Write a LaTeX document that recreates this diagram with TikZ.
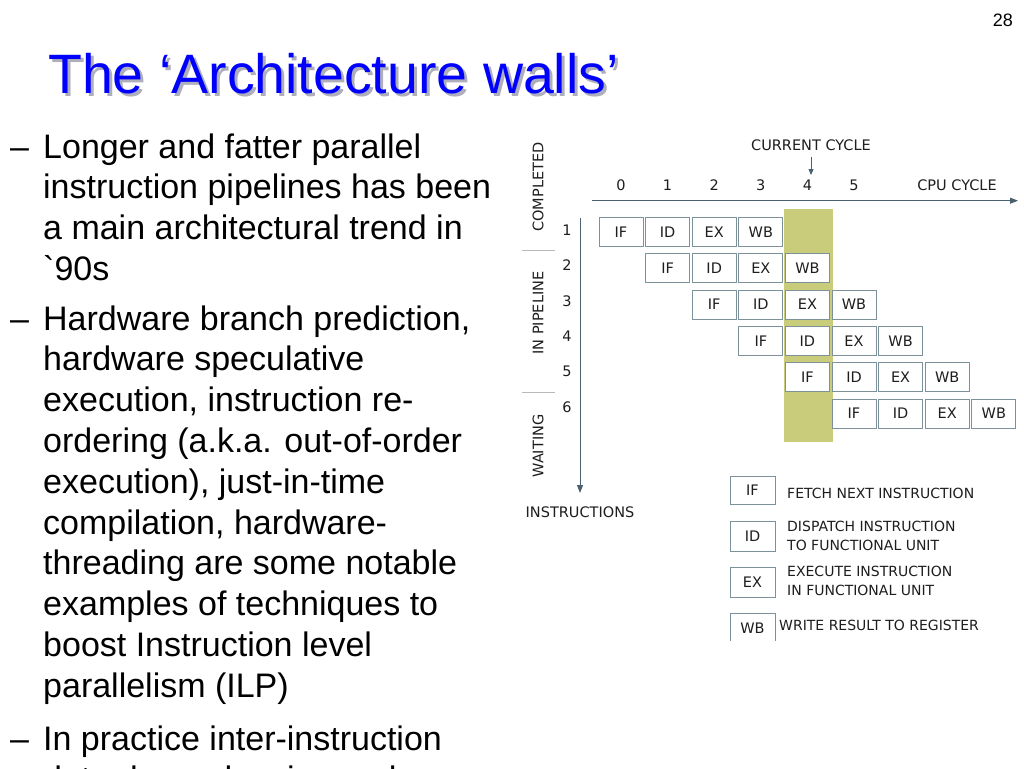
\documentclass[tikz,border=0pt]{standalone}
\usepackage{fontspec}
\setmainfont{Liberation Sans}
\newfontfamily\djfont{DejaVu Sans}
\usetikzlibrary{arrows.meta}

\definecolor{titleblue}{RGB}{0,0,255}
\definecolor{shadowgray}{RGB}{175,175,188}
\definecolor{hilite}{RGB}{201,204,122}
\definecolor{axisc}{RGB}{74,96,110}
\definecolor{boxc}{RGB}{125,145,155}
\definecolor{dtext}{RGB}{30,30,30}

\begin{document}
\begin{tikzpicture}[x=1pt,y=-1pt,
  body/.style={anchor=base west, inner sep=0pt, font=\fontsize{34}{40}\selectfont},
  dg/.style={font=\djfont\fontsize{14.5}{17}\selectfont, text=dtext, inner sep=0pt},
  lg/.style={font=\djfont\fontsize{14}{19}\selectfont, text=dtext, inner sep=0pt, anchor=west, align=left},
  stage/.style={draw=boxc, line width=0.8pt, minimum width=44pt, minimum height=29pt, inner sep=0pt,
                font=\djfont\fontsize{14.5}{17}\selectfont, text=dtext, fill=white},
  ax/.style={draw=axisc, line width=0.9pt, -{Triangle[length=8pt,width=6pt]}},
  sepline/.style={draw=gray!55, line width=0.8pt}]

\useasboundingbox (0,0) rectangle (1024,768);
\fill[white] (0,0) rectangle (1024,768);

% page number
\node[anchor=base east, inner sep=0pt, font=\fontsize{18}{20}\selectfont] (pg) at (1013,27) {28};

% title
\node[anchor=base west, inner sep=0pt, font=\fontsize{55.5}{60}\selectfont, text=shadowgray] (titleshadow) at (51,96.5) {The ‘Architecture walls’};
\node[anchor=base west, inner sep=0pt, font=\fontsize{55.5}{60}\selectfont, text=titleblue] (title) at (48,93.5) {The ‘Architecture walls’};

% body text
\node[body] (d1) at (10,158) {–};
\node[body] (l1) at (43,158) {Longer and fatter parallel};
\node[body] (l2) at (43,198.8) {instruction pipelines has been};
\node[body] (l3) at (43,239.6) {a main architectural trend in};
\node[body] (l4) at (43,280.4) {\textasciigrave 90s};
\node[body] (d2) at (10,330) {–};
\node[body] (m1) at (43,330) {Hardware branch prediction,};
\node[body] (m2) at (43,370.8) {hardware speculative};
\node[body] (m3) at (43,411.6) {execution, instruction re-};
\node[body] (m4) at (43,452.4) {ordering (a.k.a. out-of-order};
\node[body] (m5) at (43,493.2) {execution), just-in-time};
\node[body] (m6) at (43,534) {compilation, hardware-};
\node[body] (m7) at (43,574.8) {threading are some notable};
\node[body] (m8) at (43,615.6) {examples of techniques to};
\node[body] (m9) at (43,656.4) {boost Instruction level};
\node[body] (m10) at (43,697.2) {parallelism (ILP)};
\node[body] (d3) at (10,750) {–};
\node[body] (n1) at (43,750) {In practice inter-instruction};
\begin{scope}
  \clip (0,700) rectangle (520,768);
  \node[body] (n2) at (43,790) {data dependencies and};
\end{scope}

% highlight column (current cycle)
\fill[hilite] (784,209) rectangle (833,442);

% axes
\coordinate (xs) at (592,200.7);
\coordinate (xe) at (1018,200.7);
\draw[ax] (xs) -- (xe);
\coordinate (ys) at (580,218);
\coordinate (ye) at (580,493);
\draw[ax] (ys) -- (ye);

% cycle numbers
\foreach \c in {0,...,5} {
  \node[dg] (c\c) at (621+46.6*\c,185) {\c};
}
\node[dg] (cpu) at (957,185) {CPU CYCLE};
\node[dg] (cc) at (811,145) {CURRENT CYCLE};
\draw[draw=axisc, line width=0.8pt, -{Triangle[length=6pt,width=5pt]}] ([yshift=-6.5pt]cc.south) -- ([yshift=4.5pt]cc.south |- c4.north);

% row labels
\foreach \r in {1,...,6} {
  \node[dg] (r\r) at (567,230+35.4*\r-35.4) {\r};
}

% group labels
\node[dg, rotate=90] (gcomp) at (538,187) {COMPLETED};
\node[dg, rotate=90] (gpipe) at (538,313) {IN PIPELINE};
\node[dg, rotate=90] (gwait) at (538,446) {WAITING};
\coordinate (s1a) at (522,250);
\coordinate (s1b) at (555,250);
\coordinate (s2a) at (522,392);
\coordinate (s2b) at (555,392);
\draw[sepline] (s1a) -- (s1b);
\draw[sepline] (s2a) -- (s2b);
\node[dg] (instr) at (580,512) {INSTRUCTIONS};

% pipeline stages
\foreach \r in {1,...,6} {
  \foreach \s [count=\k from 0] in {IF,ID,EX,WB} {
    \pgfmathsetmacro{\cx}{621+46.6*(\r-1+\k)}
    \pgfmathsetmacro{\cy}{232+36.3*(\r-1)}
    \node[stage] (b\r\s) at (\cx,\cy) {\s};
  }
}

% legend
\node[stage, minimum width=45pt, minimum height=28pt] (lif) at (752.5,490) {IF};
\node[lg] (tif) at (787,493) {FETCH NEXT INSTRUCTION};
\node[stage, minimum width=45pt, minimum height=30pt] (lid) at (752.5,536) {ID};
\node[lg] (tid) at (787,535.5) {DISPATCH INSTRUCTION\\TO FUNCTIONAL UNIT};
\node[stage, minimum width=45pt, minimum height=30pt] (lex) at (752.5,582) {EX};
\node[lg] (tex) at (787,581) {EXECUTE INSTRUCTION\\IN FUNCTIONAL UNIT};
\begin{scope}
  \clip (700,600) rectangle (800,640);
  \node[stage, minimum width=45pt, minimum height=30pt] (lwb) at (752.5,628) {WB};
\end{scope}
\node[lg] (twb) at (779,625) {WRITE RESULT TO REGISTER};

\end{tikzpicture}
\end{document}
